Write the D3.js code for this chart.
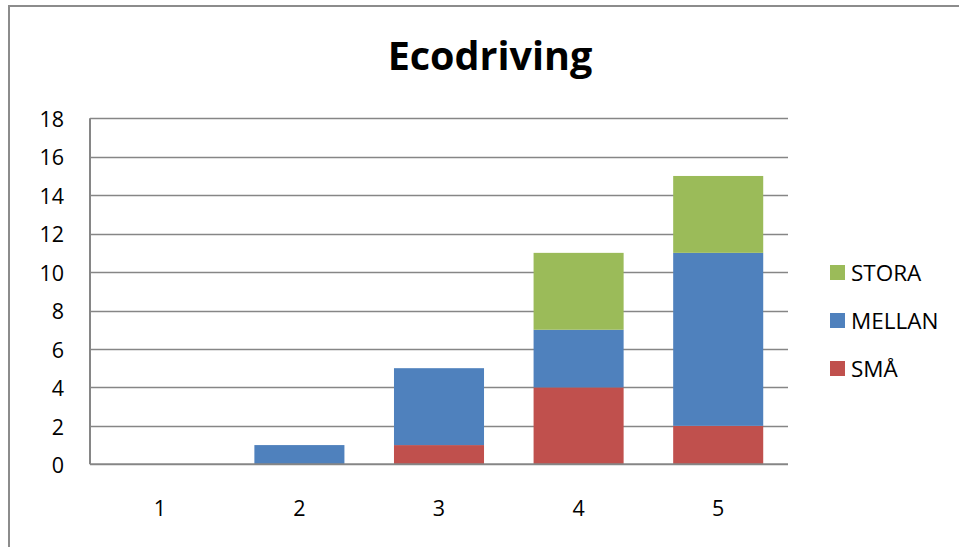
<!DOCTYPE html>
<html><head><meta charset="utf-8">
<script src="https://cdn.jsdelivr.net/npm/d3@7"></script>
<style>html,body{margin:0;padding:0;background:#fff;overflow:hidden}</style>
</head><body>
<script>
const categories = ["1","2","3","4","5"];
const seriesNames = ["SMÅ","MELLAN","STORA"];
const sma    = [0,0,1,4,2];
const mellan = [0,1,4,3,9];
const stora  = [0,0,0,4,4];
const colors = ["#C0504D","#4F81BD","#9BBB59"];
const yTicks = [0,2,4,6,8,10,12,14,16,18];
const title = "Ecodriving";

(function(){
const W=959,H=547;
const svg=d3.select("body").append("svg").attr("width",W).attr("height",H);
svg.append("rect").attr("x",9).attr("y",6).attr("width",W+10).attr("height",H+10)
  .attr("fill","#fff").attr("stroke","#8c8c8c").attr("stroke-width",2);

const font="'Open Sans', sans-serif";
const pLeft=90,pRight=788,pTop=118.3,pBottom=464.3;
const x=d3.scaleBand().domain(categories).range([pLeft,pRight]).paddingInner(0.355).paddingOuter(0.1775);
const y=d3.scaleLinear().domain([0,18]).range([pBottom,pTop]);

svg.append("text").attr("x",490).attr("y",70).attr("text-anchor","middle")
  .attr("font-family",font).attr("font-weight","bold").attr("font-size",39.5).attr("fill","#000").text(title);

svg.append("g").selectAll("line").data(yTicks.filter(d=>d>0)).join("line")
  .attr("x1",pLeft).attr("x2",pRight).attr("y1",d=>Math.round(y(d))+0.5).attr("y2",d=>Math.round(y(d))+0.5)
  .attr("stroke","#868686").attr("stroke-width",1.5);

const rows=categories.map((c,i)=>({cat:c,"SMÅ":sma[i],"MELLAN":mellan[i],"STORA":stora[i]}));
const stack=d3.stack().keys(seriesNames)(rows);
svg.append("g").selectAll("g").data(stack).join("g").attr("fill",(d,i)=>colors[i])
  .selectAll("rect").data(d=>d).join("rect")
  .attr("x",d=>x(d.data.cat)).attr("width",x.bandwidth())
  .attr("y",d=>y(d[1])).attr("height",d=>y(d[0])-y(d[1]));

svg.append("line").attr("x1",pLeft).attr("x2",pLeft).attr("y1",pTop).attr("y2",pBottom).attr("stroke","#868686").attr("stroke-width",2);
svg.append("line").attr("x1",pLeft).attr("x2",pRight).attr("y1",pBottom).attr("y2",pBottom).attr("stroke","#868686").attr("stroke-width",2);

svg.append("g").selectAll("text").data(yTicks).join("text")
  .attr("x",64).attr("y",d=>y(d)+1).attr("dy","0.36em").attr("text-anchor","end")
  .attr("font-family",font).attr("font-size",21.5).attr("fill","#000").text(d=>d);

svg.append("g").selectAll("text").data(categories).join("text")
  .attr("x",d=>x(d)+x.bandwidth()/2).attr("y",508).attr("dy","0.36em").attr("text-anchor","middle")
  .attr("font-family",font).attr("font-size",21.5).attr("fill","#000").text(d=>d);

const legOrder=[2,1,0];
const lg=svg.append("g").selectAll("g").data(legOrder).join("g")
  .attr("transform",(d,i)=>`translate(830,${272+i*48})`);
lg.append("rect").attr("x",0).attr("y",-7).attr("width",15).attr("height",15).attr("fill",d=>colors[d]);
lg.append("text").attr("x",21).attr("y",1).attr("dy","0.36em")
  .attr("font-family",font).attr("font-size",22.5).attr("fill","#000").text(d=>seriesNames[d]);
})();
</script>
</body></html>
